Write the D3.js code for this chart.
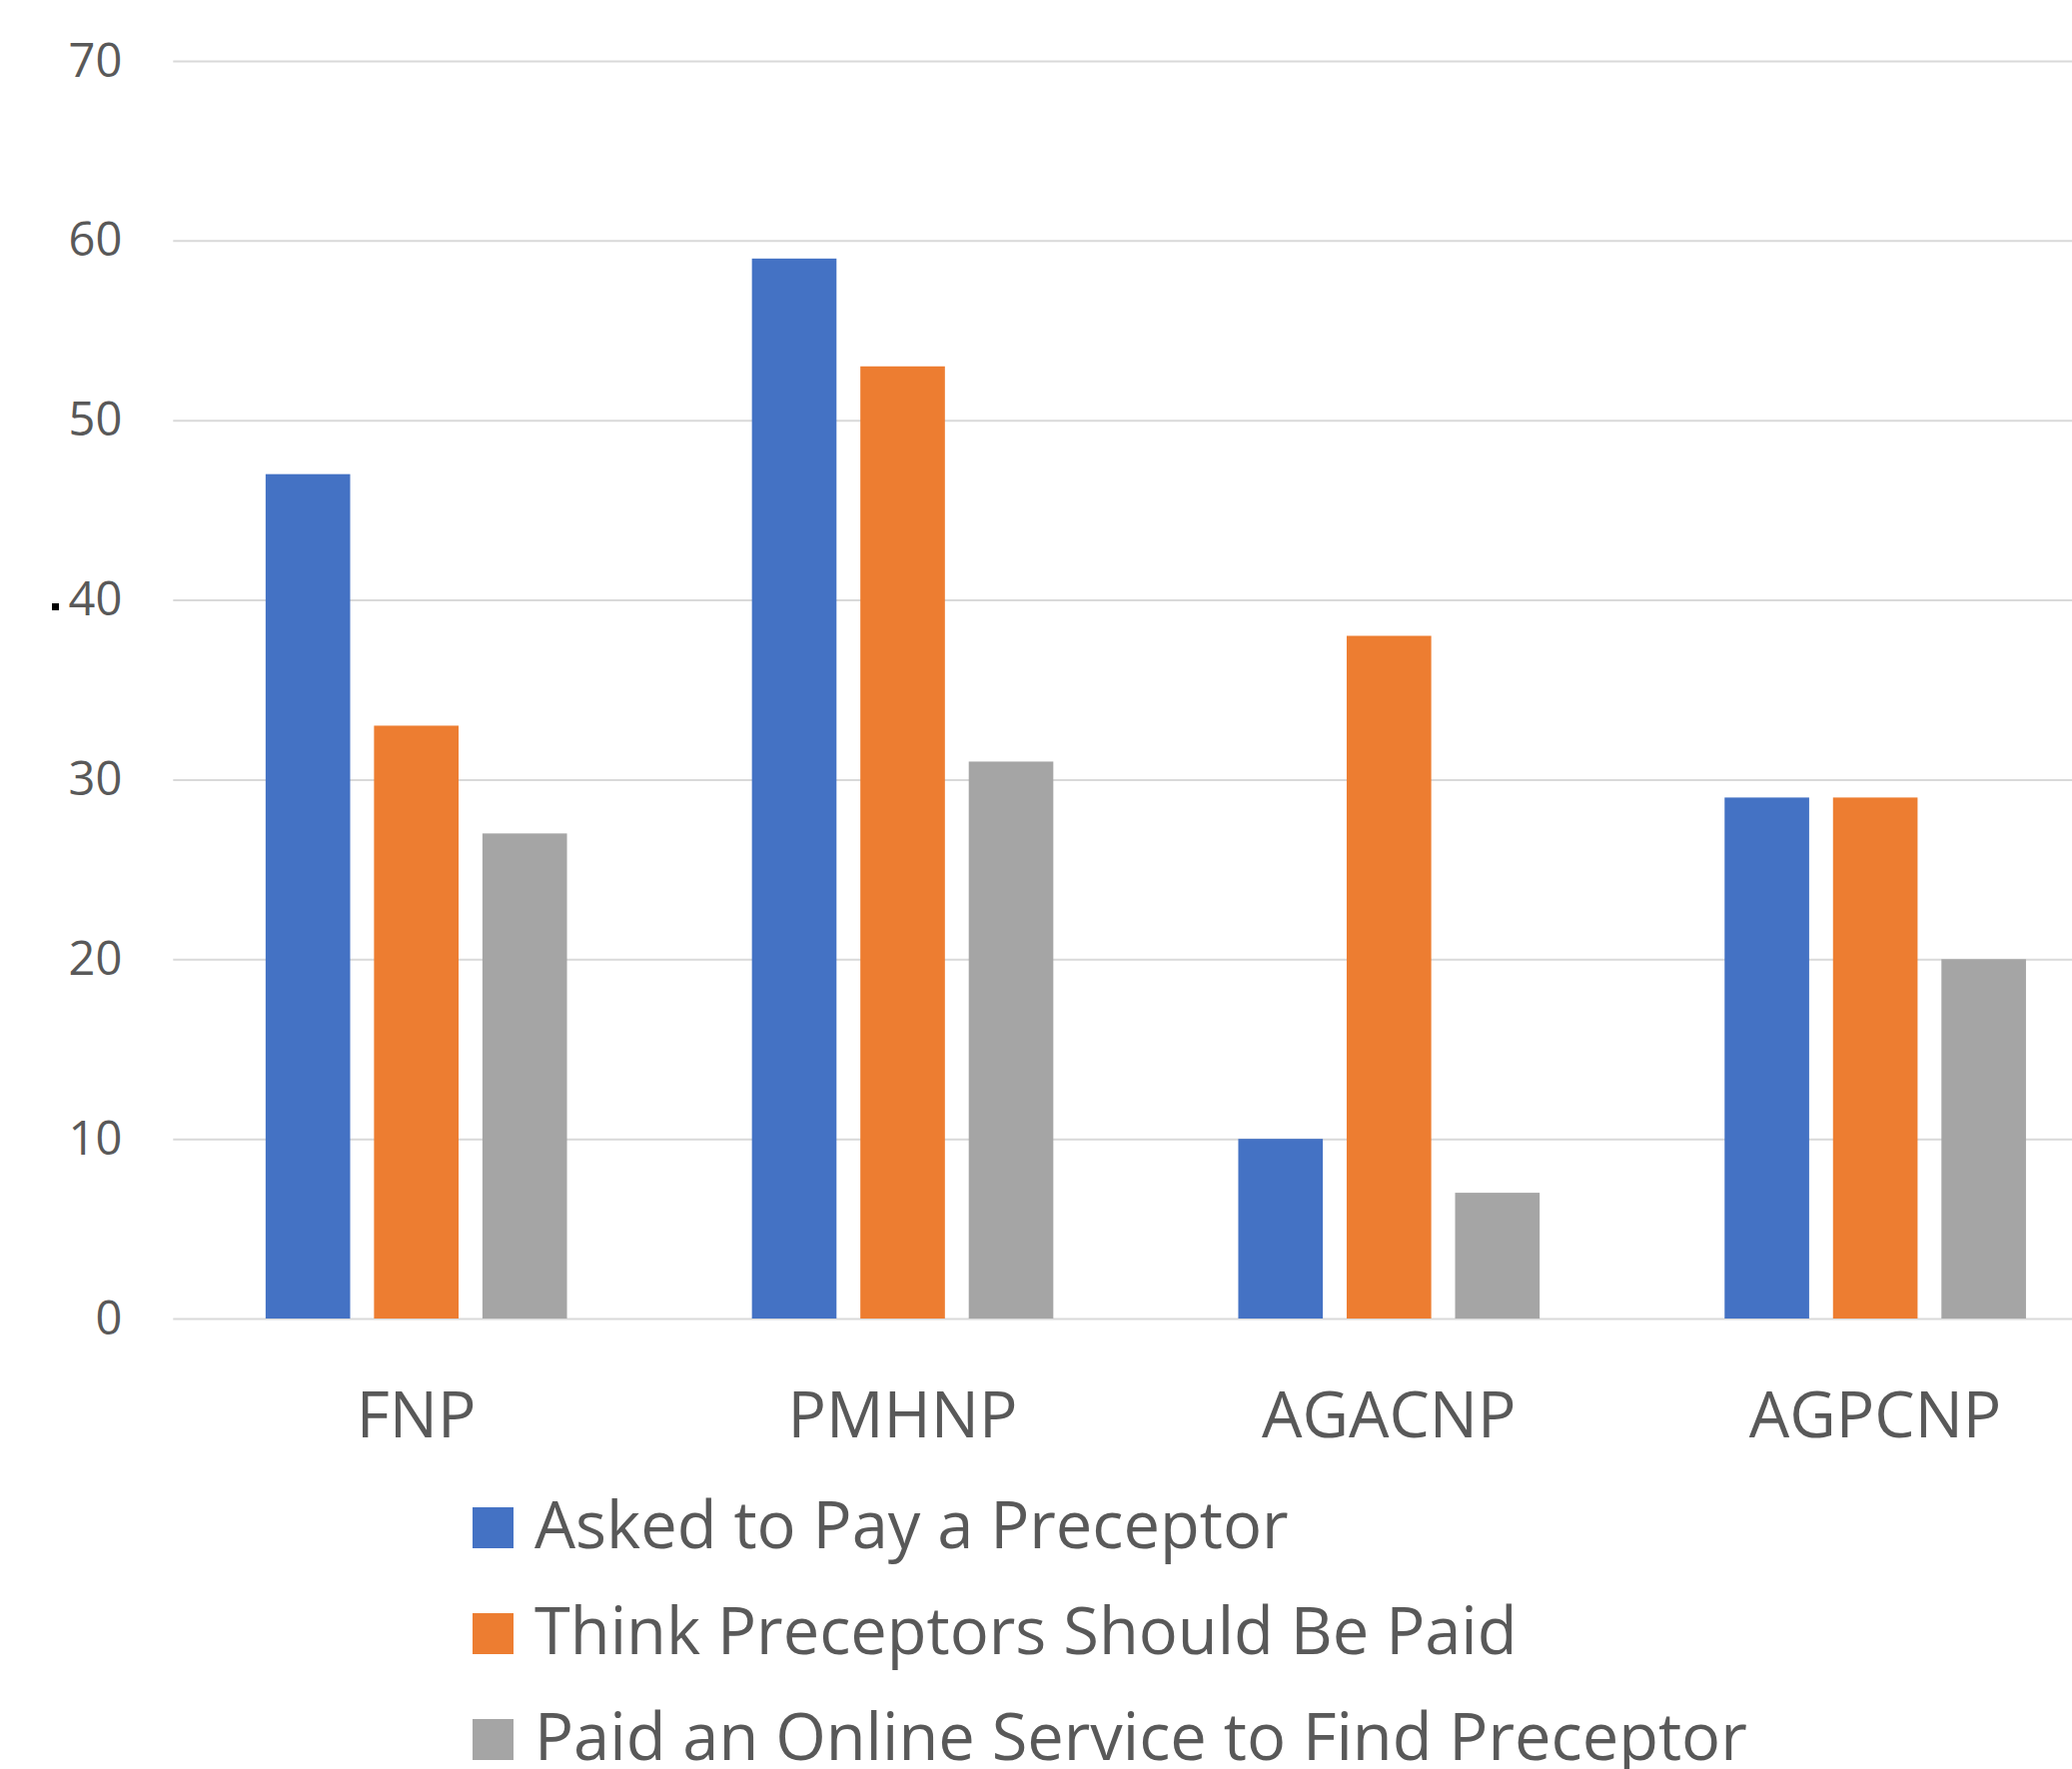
<!DOCTYPE html>
<html>
<head>
<meta charset="utf-8">
<script src="https://cdn.jsdelivr.net/npm/d3@7"></script>
<style>
  body { margin: 0; background: #fff; }
  text { font-family: "Segoe UI", "Open Sans", sans-serif; fill: #595959; }
</style>
</head>
<body>
<svg id="svg" width="2074" height="1771"></svg>
<script>
// donnees du graphique
var categories = ["FNP", "PMHNP", "AGACNP", "AGPCNP"];
var series = ["Asked to Pay a Preceptor", "Think Preceptors Should Be Paid", "Paid an Online Service to Find Preceptor"];
var askedToPay = [47, 59, 10, 29];
var thinkPaid = [33, 53, 38, 29];
var paidOnline = [27, 31, 7, 20];
var yTicks = [0, 10, 20, 30, 40, 50, 60, 70];
var colors = ["#4472C4", "#ED7D31", "#A5A5A5"];

var values = [askedToPay, thinkPaid, paidOnline];

var svg = d3.select("#svg");

// echelles
var scaleX = d3.scaleBand().domain(categories).range([173.3, 2120.5]).padding(0);
var scaleX1 = d3.scaleBand().domain(series).range([0, scaleX.bandwidth()])
	.paddingInner(0.22).paddingOuter(0.853);
var scaleY = d3.scaleLinear().domain([0, 70]).range([1320, 61]);

// grille
var axisY = d3.axisLeft(scaleY).tickValues(yTicks).tickSize(-(2074 - 173)).tickPadding(51);
var gAxisY = svg.append("g").attr("transform", "translate(173.3,0)").call(axisY);
gAxisY.select(".domain").remove();
gAxisY.selectAll(".tick line").attr("stroke", "#D9D9D9").attr("stroke-width", 2);
gAxisY.selectAll(".tick text").style("font-size", "47px").attr("fill", "#595959");

// barres
var gBars = svg.append("g");
series.forEach(function(s, j) {
	gBars.selectAll(null)
		.data(values[j])
		.enter()
		.append("rect")
		.attr("x", function(d, i) { return scaleX(categories[i]) + scaleX1(s); })
		.attr("y", function(d) { return scaleY(d); })
		.attr("width", scaleX1.bandwidth())
		.attr("height", function(d) { return scaleY(0) - scaleY(d); })
		.attr("fill", colors[j]);
});

// axe X (libelles seulement)
var axisX = d3.axisBottom(scaleX).tickSize(0).tickPadding(0);
var gAxisX = svg.append("g").attr("transform", "translate(0,1439)").call(axisX);
gAxisX.select(".domain").remove();
gAxisX.selectAll(".tick text").attr("dy", 0).style("font-size", "64px").attr("fill", "#595959");

// petit point noir pres de 40
svg.append("rect").attr("x", 52).attr("y", 604).attr("width", 7).attr("height", 7).attr("fill", "#000");

// legende
var legend = svg.append("g").attr("transform", "translate(473,1509)");
series.forEach(function(s, j) {
	var g = legend.append("g").attr("transform", "translate(0," + (j * 106) + ")");
	g.append("rect").attr("width", 41).attr("height", 41).attr("fill", colors[j]);
	g.append("text").attr("x", 62).attr("y", 41).style("font-size", "65px").text(s);
});
</script>
</body>
</html>
